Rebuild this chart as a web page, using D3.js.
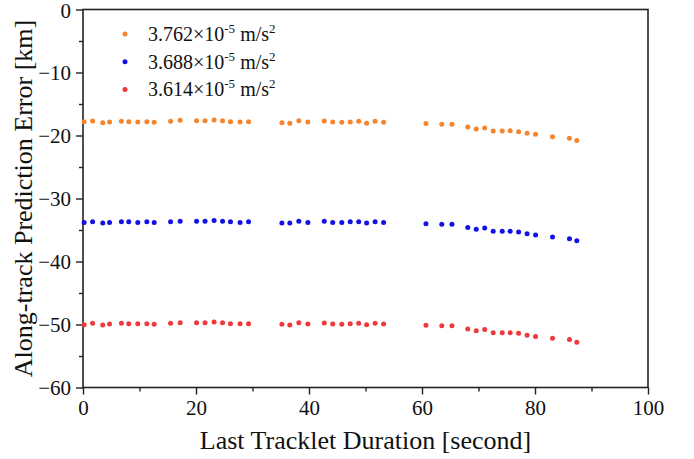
<!DOCTYPE html>
<html>
<head>
<meta charset="utf-8">
<script src="https://cdn.jsdelivr.net/npm/d3@7"></script>
<style>
body { margin: 0; background: #fff; }
text { font-family: "Liberation Serif", "Times New Roman", serif; fill: #111; }
</style>
</head>
<body>
<script>
var width = 694,
    height = 459;

var margin = {top: 9.5, right: 46, bottom: 71.5, left: 83};

// x: last tracklet duration [s]
var duration = [0.2, 1.7, 3.5, 4.7, 6.8, 8.1, 9.7, 11.3, 12.6, 15.5, 17.2, 20.1, 21.6, 23.2, 24.7,
  26.1, 27.8, 29.3, 35.2, 36.6, 38.2, 39.8, 42.7, 44.2, 45.8, 47.3, 48.8, 50.2, 51.7, 53.2,
  60.7, 63.5, 65.3, 68.1, 69.6, 71.1, 72.6, 74.2, 75.6, 77.1, 78.6, 80.1, 83.1, 86.1, 87.4];

var errOrange = [-17.80, -17.70, -17.97, -17.86, -17.75, -17.80, -17.86, -17.80, -17.91, -17.75,
  -17.59, -17.65, -17.65, -17.54, -17.65, -17.80, -17.86, -17.80, -17.97, -18.07, -17.65, -17.86,
  -17.70, -17.86, -17.91, -17.86, -17.75, -18.07, -17.75, -17.91,
  -18.1, -18.2, -18.2, -18.65, -18.97, -18.8, -19.3, -19.3, -19.23, -19.4, -19.66, -19.8, -20.2, -20.45, -20.8];

var errBlue = [-33.8, -33.7, -33.9, -33.8, -33.7, -33.7, -33.8, -33.7, -33.8, -33.7,
  -33.6, -33.6, -33.6, -33.5, -33.6, -33.7, -33.8, -33.7, -33.9, -33.9, -33.6, -33.8,
  -33.6, -33.8, -33.8, -33.7, -33.7, -33.9, -33.7, -33.8,
  -34.0, -34.1, -34.1, -34.6, -34.9, -34.7, -35.2, -35.2, -35.2, -35.3, -35.6, -35.8, -36.1, -36.4, -36.7];

var errRed = [-50.03, -49.81, -50.08, -49.92, -49.81, -49.87, -49.87, -49.87, -49.97, -49.81,
  -49.71, -49.71, -49.71, -49.60, -49.71, -49.87, -49.87, -49.87, -49.97, -50.08, -49.71, -49.92,
  -49.76, -49.92, -49.95, -49.87, -49.81, -50.05, -49.81, -49.92,
  -50.1, -50.2, -50.2, -50.7, -51.0, -50.8, -51.3, -51.3, -51.3, -51.4, -51.7, -51.9, -52.2, -52.4, -52.8];

var seriesNames = ["3.762", "3.688", "3.614"];
var seriesColors = ["#f5842c", "#1212e6", "#ef3a3d"];
var seriesValues = [errOrange, errBlue, errRed];

var xTicks = [0, 20, 40, 60, 80, 100];
var yTicks = [0, -10, -20, -30, -40, -50, -60];

var w = width - margin.left - margin.right,
    h = height - margin.top - margin.bottom;

var x = d3.scaleLinear().domain([0, 100]).range([0, w]);
var y = d3.scaleLinear().domain([-60, 0]).range([h, 0]);

var svg = d3.select("body").append("svg")
    .attr("width", width)
    .attr("height", height)
  .append("g")
    .attr("transform", "translate(" + margin.left + "," + margin.top + ")");

// minor ticks first, majors drawn over them
var xMinor = d3.axisBottom(x).tickValues(d3.range(10, 100, 20)).tickSize(4).tickFormat("");
var yMinor = d3.axisLeft(y).tickValues(d3.range(-55, 0, 10)).tickSize(4).tickFormat("");

svg.append("g").attr("transform", "translate(0," + h + ")").call(xMinor);
svg.append("g").call(yMinor);

var xAxis = svg.append("g")
    .attr("transform", "translate(0," + h + ")")
    .call(d3.axisBottom(x).tickValues(xTicks).tickSize(7).tickPadding(6));

var yAxis = svg.append("g")
    .call(d3.axisLeft(y).tickValues(yTicks).tickSize(7).tickPadding(5));

svg.selectAll(".domain").remove();
svg.selectAll(".tick line").attr("stroke", "#222").attr("stroke-width", 1.4);
xAxis.selectAll("text").style("font-size", "21px").attr("fill", "#111");
yAxis.selectAll("text").style("font-size", "21px").attr("fill", "#111")
    .attr("dy", function(d) { return d === 0 ? "0.38em" : "0.32em"; });

// frame
svg.append("rect")
    .attr("width", w)
    .attr("height", h)
    .attr("fill", "none")
    .attr("stroke", "#222")
    .attr("stroke-width", 1.6);

// dots
seriesValues.forEach(function(vals, k) {
  svg.append("g").selectAll("circle")
      .data(vals)
    .enter().append("circle")
      .attr("cx", function(d, i) { return x(duration[i]); })
      .attr("cy", function(d) { return y(d); })
      .attr("r", 2.5)
      .attr("fill", seriesColors[k]);
});

// legend
var legend = svg.append("g");
seriesNames.forEach(function(name, k) {
  var ly = 24.5 + k * 27.7;
  legend.append("circle")
      .attr("cx", 42)
      .attr("cy", ly)
      .attr("r", 2.5)
      .attr("fill", seriesColors[k]);
  var t = legend.append("text")
      .attr("x", 65)
      .attr("y", ly + 7)
      .style("font-size", "20px");
  t.append("tspan").text(name + "\u00d710");
  t.append("tspan").attr("dy", -8).style("font-size", "13px").text("-5");
  t.append("tspan").attr("dy", 8).text(" m/s");
  t.append("tspan").attr("dy", -8).style("font-size", "13px").text("2");
});

// axis titles
svg.append("text")
    .attr("x", w / 2)
    .attr("y", h + 61)
    .attr("text-anchor", "middle")
    .style("font-size", "26px")
    .text("Last Tracklet Duration [second]");

svg.append("text")
    .attr("transform", "translate(" + (-51) + "," + (h / 2) + ") rotate(-90)")
    .attr("text-anchor", "middle")
    .style("font-size", "26px")
    .text("Along-track Prediction Error [km]");
</script>
</body>
</html>
